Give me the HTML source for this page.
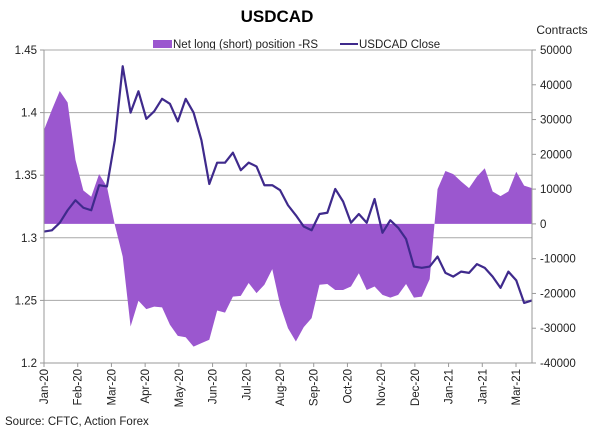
<!DOCTYPE html>
<html><head><meta charset="utf-8"><style>
body{margin:0;background:#fff;width:600px;height:430px;overflow:hidden;font-family:"Liberation Sans",Arial,sans-serif}
svg text{font-family:"Liberation Sans",Arial,sans-serif}
</style></head><body>
<svg id="chart" width="600" height="430">
<text x="277" y="22" font-size="17" font-weight="bold" text-anchor="middle">USDCAD</text>
<text x="562" y="34" font-size="12" text-anchor="middle" fill="#222">Contracts</text>
<g>
<rect x="153" y="40" width="19" height="8" fill="#9b57cf"/>
<text x="173" y="48" font-size="11.5" fill="#222">Net long (short) position -RS</text>
<line x1="340" y1="44" x2="358" y2="44" stroke="#3f2a8c" stroke-width="2"/>
<text x="359" y="48" font-size="11.5" fill="#222">USDCAD Close</text>
</g>
<g id="grid"></g>
<g id="area"></g>
<g id="line"></g>
<g id="axes"></g>
<text x="5" y="425" font-size="11.5" fill="#222">Source: CFTC, Action Forex</text>
</svg>
<script>
const months = ["Jan-20","Feb-20","Mar-20","Apr-20","May-20","Jun-20","Jul-20","Aug-20","Sep-20","Oct-20","Nov-20","Dec-20","Jan-21","Jan-21","Mar-21"];
const leftTicks = [1.2,1.25,1.3,1.35,1.4,1.45];
const rightTicks = [-40000,-30000,-20000,-10000,0,10000,20000,30000,40000,50000];
const close = [1.305,1.306,1.312,1.322,1.330,1.324,1.322,1.342,1.341,1.378,1.437,1.400,1.417,1.395,1.401,1.411,1.407,1.393,1.411,1.400,1.378,1.343,1.360,1.360,1.368,1.354,1.360,1.357,1.342,1.342,1.338,1.326,1.318,1.309,1.306,1.319,1.320,1.339,1.329,1.312,1.319,1.312,1.331,1.304,1.314,1.308,1.299,1.277,1.276,1.277,1.285,1.272,1.269,1.273,1.272,1.279,1.276,1.269,1.260,1.273,1.266,1.248,1.250];
const netPos = [27000,32800,38200,34900,18400,9600,7800,14300,10700,-300,-9400,-29500,-22100,-24500,-23800,-24000,-29000,-32200,-32600,-35300,-34300,-33300,-24900,-25500,-20900,-20700,-17000,-19900,-17500,-13000,-23300,-30000,-33800,-29700,-27100,-17500,-17300,-19000,-19000,-18000,-14200,-19000,-18000,-20400,-21200,-20400,-17300,-21200,-20900,-15900,10000,15200,14300,12200,10300,13600,16000,9300,8000,9300,15000,11000,10300];

const X0=44,X1=532,Y0=50,Y1=363;
const ns="http://www.w3.org/2000/svg";
const xi=i=>X0+(X1-X0)*i/(close.length-1);
const yL=v=>Y1-(v-1.2)/(1.45-1.2)*(Y1-Y0);
const yR=v=>Y1-(v+40000)/90000*(Y1-Y0);
function mk(tag,attrs,parent){const e=document.createElementNS(ns,tag);for(const k in attrs)e.setAttribute(k,attrs[k]);parent.appendChild(e);return e;}
const gGrid=document.getElementById('grid'),gArea=document.getElementById('area'),gLine=document.getElementById('line'),gAxes=document.getElementById('axes');

leftTicks.forEach(t=>{
  const y=yL(t);
  if(t>1.2){const g=mk('line',{x1:X0,x2:X1,y1:y,y2:y,stroke:'#a8a8a8','stroke-width':1},gGrid);
  
  }
  const tk=mk('line',{x1:X0-4,x2:X0,y1:y,y2:y,stroke:'#999'},gAxes);
  
  
  const tx=mk('text',{x:X0-7,y:y+4,'font-size':11.5,'text-anchor':'end',fill:'#222'},gAxes);
  tx.textContent=String(t);
  
  
});
rightTicks.forEach(t=>{
  const y=yR(t);
  const tk=mk('line',{x1:X1,x2:X1+4,y1:y,y2:y,stroke:'#999'},gAxes);
  
  
  const tx=mk('text',{x:X1+8,y:y+4,'font-size':11.5,fill:'#222'},gAxes);
  tx.textContent=String(t);
  
  
});
let d=`M${xi(0)},${yR(0)}`;
netPos.forEach((v,i)=>{d+=` L${xi(i)},${yR(v)}`;});
d+=` L${xi(netPos.length-1)},${yR(0)} Z`;
const ar=mk('path',{d:d,fill:'#9b57cf',stroke:'none'},gArea);


const pts=close.map((v,i)=>`${xi(i)},${yL(v)}`).join(' ');
const pl=mk('polyline',{points:pts,fill:'none',stroke:'#3f2a8c','stroke-width':2.2,'stroke-linejoin':'round'},gLine);


const topBorder=mk('line',{x1:X0,x2:X1,y1:Y0,y2:Y0,stroke:'#a8a8a8'},gAxes);


const leftAxis=mk('line',{x1:X0,x2:X0,y1:Y0,y2:Y1,stroke:'#999'},gAxes);


const rightAxis=mk('line',{x1:X1,x2:X1,y1:Y0,y2:Y1,stroke:'#999'},gAxes);


const bottomAxis=mk('line',{x1:X0,x2:X1,y1:Y1,y2:Y1,stroke:'#999'},gAxes);


const step=(516-X0)/(months.length-1);
months.forEach((m,i)=>{
  const x=X0+i*step;
  const tk=mk('line',{x1:x,x2:x,y1:Y1,y2:Y1+4,stroke:'#999'},gAxes);
  
  
  const tx=mk('text',{x:0,y:0,'font-size':11.5,'text-anchor':'end',fill:'#222',transform:`translate(${x+4},${Y1+6}) rotate(-90)`},gAxes);
  tx.textContent=m;
  
  
});
</script>
</body></html>
